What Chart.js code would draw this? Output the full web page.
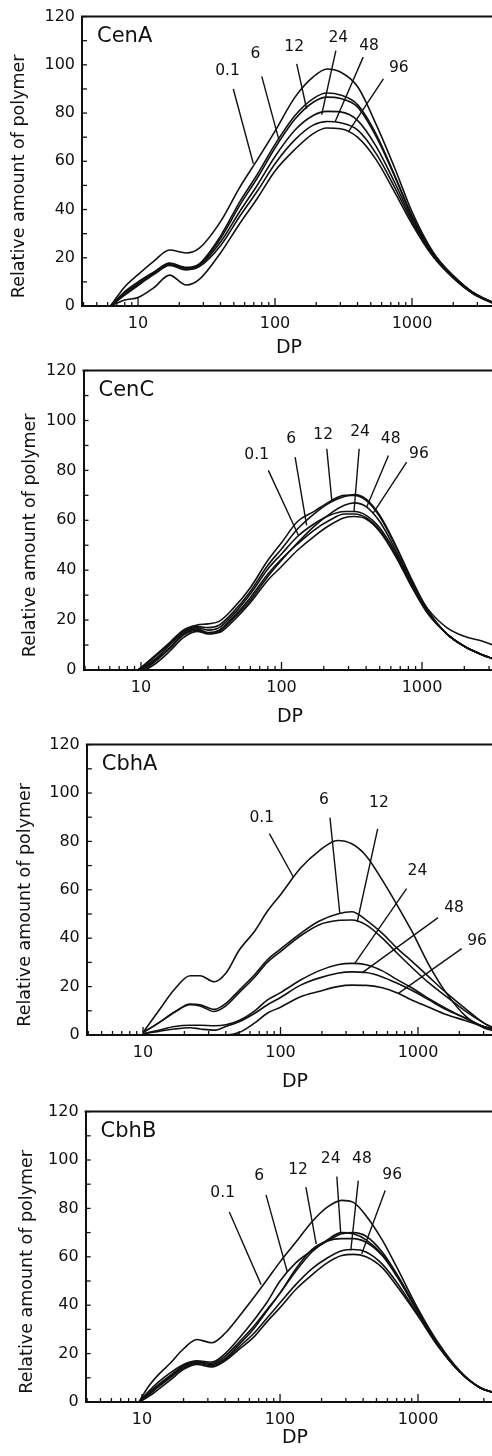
<!DOCTYPE html>
<html>
<head>
<meta charset="utf-8">
<script src="https://cdn.jsdelivr.net/npm/chart.js@4.4.1/dist/chart.umd.min.js"></script>
<style>
  html, body { margin: 0; padding: 0; background: #fff; }
  #wrap { position: relative; width: 492px; height: 1456px; overflow: hidden; background: #fff; }
  #wrap canvas { position: absolute; left: 0; }
</style>
</head>
<body>
<div id="wrap"></div>
<script>
// incubation times (h), one curve each
const hours = ["0.1", "6", "12", "24", "48", "96"];
const yTicks = [0, 20, 40, 60, 80, 100, 120];
const xTicks = [10, 100, 1000];

// ---- CenA ----
const cenADP = [6.3, 8, 10, 13, 17, 22.5, 28, 40, 55, 75, 100, 140, 190, 240, 300, 400, 550, 750, 1000, 1400, 2000, 2800, 4000];
const cenA = [
  [0, 8, 13, 18.5, 23.2, 22, 24, 35, 49, 61, 72.5, 86.6, 95, 98.3, 97, 91, 75, 57, 39, 23, 12, 5, 0.8],
  [0, 6, 10, 14, 17.8, 16, 17.5, 29, 43, 55, 67, 79, 86, 88.3, 87.5, 83.5, 71, 54, 37.5, 22.5, 12.5, 5.5, 1.2],
  [0, 5.5, 9.5, 13.8, 17.6, 15.8, 17.2, 28, 41.5, 53.5, 65.5, 77.5, 84.5, 86.6, 86, 82.5, 70, 53.5, 37, 22.5, 12.5, 5.5, 1.2],
  [0, 5, 9, 13.5, 17.2, 15.5, 16.8, 26.5, 39, 50.5, 62, 73, 79, 80.7, 80.5, 77, 66, 51, 36, 22, 12.5, 5.5, 1.2],
  [0, 4.5, 8.5, 13, 16.8, 15, 16.3, 25, 37, 48, 59, 69, 75, 76.5, 76, 73, 63, 49, 35, 21.5, 12, 5.3, 1.1],
  [0, 2.5, 3.5, 7.5, 12.8, 8.7, 11, 22, 34, 45, 56, 65, 71.5, 73.8, 73.5, 70, 60.5, 47, 34, 21, 11.5, 5, 1]
];
// label text [DP, value], leader from, leader to
const cenALabels = [
  [[45, 97.4], [49.6, 90], [69.5, 59]],
  [[72, 104.3], [80, 95.2], [107, 68.7]],
  [[138, 107.3], [144, 100.4], [170, 81.8]],
  [[290, 111.2], [278, 105.9], [219, 79.3]],
  [[486, 107.7], [440, 103.2], [274, 76.3]],
  [[800, 98.6], [618, 94.2], [342, 72.1]]
];

// ---- CenC ----
const cenCDP = [9.5, 11, 13, 16, 20, 25, 30, 36, 45, 60, 80, 100, 130, 170, 220, 280, 330, 400, 500, 650, 850, 1100, 1500, 2000, 2700, 3200];
const cenC = [
  [0, 2, 5, 10, 15, 17, 16, 17, 22, 30.5, 40.5, 46.5, 53.5, 58.5, 62, 63.5, 63.5, 62, 57, 47, 34.5, 24.5, 17, 13.5, 11.5, 10],
  [0, 2.5, 6, 10.5, 15.5, 17.5, 17, 18, 23, 31.5, 42, 48.5, 56.5, 62.5, 67, 69.5, 70.3, 68.5, 62, 50, 36, 24, 14.5, 9.5, 6, 4.5],
  [0, 3, 6.5, 11, 16, 18, 18.5, 19.5, 24.5, 33, 44, 51, 59.5, 63.5, 67.5, 70, 70, 68, 61.5, 49.5, 35.5, 23.5, 14.5, 9.5, 6, 4.5],
  [0, 1.5, 4.5, 9, 14.5, 16.5, 15, 16, 21, 29, 38.5, 44.5, 50.5, 56, 60, 62.5, 62.5, 61, 56, 46, 33.5, 23, 14.5, 9.5, 6, 4.5],
  [0, 1, 4, 8.5, 14, 16, 14.5, 15.5, 20.5, 28, 37.5, 44, 51, 57.5, 62.5, 66, 67, 65.5, 59.5, 48, 34.5, 23.5, 14.5, 9.5, 6, 4.5],
  [0, 0.5, 3, 7.5, 13, 15.5, 14.5, 15, 19.5, 27, 36, 41.5, 48, 53.5, 58, 61, 61.5, 60.5, 55.5, 45.5, 33, 22.5, 14.5, 9.5, 6, 4.5]
];
const cenCLabels = [
  [[66.6, 86.3], [80.6, 80], [132, 54]],
  [[117, 92.4], [125, 85.3], [151, 58]],
  [[198, 94.4], [210, 88.7], [228, 68]],
  [[362, 95.3], [357, 88.7], [328, 63.3]],
  [[598, 92.4], [577, 86], [404, 65.3]],
  [[951, 86.4], [777, 83.3], [447, 62.7]]
];

// ---- CbhA ----
const cbhADP = [10, 13, 17, 22, 26, 33, 40, 50, 65, 80, 100, 140, 190, 260, 330, 420, 550, 700, 900, 1200, 1600, 2200, 3000, 3500];
const cbhA = [
  [1, 10, 19, 24.5, 24.5, 22, 25.5, 35, 43, 51, 58, 69, 76, 80.4, 79, 74, 64, 54, 43, 29, 17.5, 8, 3, 1.8],
  [1, 5, 9.5, 12.8, 12.5, 10.6, 13, 18.5, 25, 31, 35.5, 42, 47, 50, 50.9, 47.5, 42, 36, 30.5, 24, 17.5, 11, 5, 3],
  [1, 5, 9.5, 12.5, 12, 9.7, 12, 17.5, 24, 30, 34.5, 41, 45.5, 47.3, 47.5, 45.5, 40, 34, 28, 21.5, 16, 10, 5, 3],
  [0.5, 2, 3.5, 4, 4, 3.8, 4.2, 6, 10, 14.4, 17.5, 22.7, 26.5, 29, 29.6, 29, 26.5, 23, 19.5, 15, 11, 7, 3.5, 2.5],
  [0.5, 1.5, 2.5, 3, 2.5, 2, 3.5, 5.5, 9, 12.4, 15.5, 20.6, 23.5, 25.5, 26.1, 25.8, 24, 21.5, 18.5, 14.5, 10.5, 7, 3.5, 2.5],
  [0, 0, 0, 0, 0, 0, 0, 1, 5, 9, 11.5, 15.8, 18, 20, 20.6, 20.5, 19.5, 17.5, 14.5, 11.5, 8.5, 6, 3.5, 2.5]
];
const cbhALabels = [
  [[73, 89.8], [83, 83.2], [124, 65.3]],
  [[207, 97.3], [229, 89.8], [270, 50.2]],
  [[520, 95.8], [509, 85.2], [361, 46.7]],
  [[990, 67.6], [826, 60.5], [347, 29.6]],
  [[1830, 52.5], [1400, 48.5], [396, 25.9]],
  [[2690, 38.8], [2080, 35.7], [720, 17.2]]
];

// ---- CbhB ----
const cbhBDP = [9.5, 11, 13, 16, 20, 25, 32, 40, 50, 65, 80, 100, 130, 170, 220, 280, 340, 420, 550, 700, 1000, 1400, 2000, 2800, 3500];
const cbhB = [
  [0, 6, 11, 16, 22, 25.8, 24.5, 28.4, 35, 43.4, 50.3, 57.9, 66, 74.4, 80.5, 83.3, 82.5, 77, 67, 55.8, 38.5, 24.5, 13, 6, 3.8],
  [0, 4, 8, 12, 15.5, 17, 16.5, 20, 26, 34, 41, 50, 57.5, 62.5, 66.5, 69.5, 70, 68.5, 62, 53, 37.5, 23.5, 12.5, 6, 4],
  [0, 3.5, 7, 11, 15, 16.5, 16, 19, 24.5, 31.5, 38, 45, 55, 63, 66.5, 67.5, 67.5, 66, 60.5, 52, 37, 23.5, 12.5, 6, 4],
  [0, 3, 6.5, 10.5, 14.5, 16.5, 15.5, 18, 23.5, 30.5, 37.5, 45, 54, 62, 67, 70, 69.5, 67, 61, 52.5, 37.5, 23.5, 12.5, 6, 4],
  [0, 2.5, 6, 10, 14, 16, 15, 17.5, 22.5, 28.5, 34.5, 41, 48.5, 55, 59.5, 62.5, 63, 62, 57, 49.5, 36, 23, 12.5, 6, 4],
  [0, 2, 5, 9, 13.5, 15.5, 14.5, 17, 21.5, 27, 33, 39, 46.5, 52.5, 57.5, 60.5, 61, 60, 55.5, 48, 35.5, 23, 12.5, 6, 4]
];
const cbhBLabels = [
  [[38.4, 86.3], [42.9, 78.5], [72.9, 48.5]],
  [[70.7, 93.2], [79.2, 85.6], [113, 53.7]],
  [[135, 96], [154, 88.8], [183, 65.2]],
  [[233, 100.5], [258, 93.2], [275, 70.2]],
  [[392, 100.5], [369, 91.5], [326, 62.7]],
  [[650, 94], [578, 87.4], [391, 61.3]]
];

// page layout of each panel (pixels)
const panels = [
  { name: "CenA", dp: cenADP, values: cenA, labels: cenALabels, top: 16,   bottom: 306,  left: 82,   right: 494.5, xMax: 4000, titleX: 19, dpX: 289, dpY: 348 },
  { name: "CenC", dp: cenCDP, values: cenC, labels: cenCLabels, top: 370,  bottom: 670,  left: 83.5, right: 493,   xMax: 3200, titleX: 30, dpX: 290, dpY: 717 },
  { name: "CbhA", dp: cbhADP, values: cbhA, labels: cbhALabels, top: 744,  bottom: 1035, left: 86.8, right: 492.8, xMax: 3500, titleX: 25, dpX: 295, dpY: 1082 },
  { name: "CbhB", dp: cbhBDP, values: cbhB, labels: cbhBLabels, top: 1111, bottom: 1402, left: 85.6, right: 493.1, xMax: 3500, titleX: 27, dpX: 295, dpY: 1438 }
];

const FONT = "'DejaVu Sans', sans-serif";
const INK = "#111";
const W = 510, H = 380;
const wrap = document.getElementById("wrap");

function line(ctx, x1, y1, x2, y2) {
  ctx.beginPath();
  ctx.moveTo(x1, y1);
  ctx.lineTo(x2, y2);
  ctx.stroke();
}

function decorPlugin(p, canvasTop) {
  return {
    id: "decor" + p.name,
    afterDraw(chart) {
      const ctx = chart.ctx;
      const a = chart.chartArea;
      const xs = chart.scales.x, ys = chart.scales.y;
      ctx.save();
      ctx.strokeStyle = INK;
      ctx.fillStyle = INK;

      // top frame
      ctx.lineWidth = 2;
      line(ctx, a.left - 1, a.top, a.right + 2, a.top);

      // inward ticks
      ctx.lineWidth = 1.3;
      for (let d = 0; d < 4; d++) {
        for (let k = 1; k < 10; k++) {
          const v = k * Math.pow(10, d);
          if (v < xs.min || v > xs.max) continue;
          const x = xs.getPixelForValue(v);
          line(ctx, x, a.bottom, x, a.bottom - (k === 1 ? 8 : 4));
        }
      }
      for (let v = 0; v <= 120; v += 10) {
        const y = ys.getPixelForValue(v);
        line(ctx, a.left, y, a.left + 5, y);
      }

      // panel name
      ctx.font = "21px " + FONT;
      ctx.textAlign = "left";
      ctx.textBaseline = "middle";
      ctx.fillText(p.name, a.left + 15, a.top + 20);

      // axis titles
      ctx.font = "19px " + FONT;
      ctx.textAlign = "center";
      ctx.fillText("DP", p.dpX, p.dpY - canvasTop);
      ctx.save();
      ctx.translate(p.titleX, (a.top + a.bottom) / 2 + 15);
      ctx.rotate(-Math.PI / 2);
      ctx.font = "17.5px " + FONT;
      ctx.fillText("Relative amount of polymer", 0, 0);
      ctx.restore();

      // curve labels with leader lines
      ctx.font = "15.5px " + FONT;
      ctx.lineWidth = 1.4;
      p.labels.forEach((lb, i) => {
        const [at, from, to] = lb;
        ctx.fillText(hours[i], xs.getPixelForValue(at[0]), ys.getPixelForValue(at[1]));
        line(ctx, xs.getPixelForValue(from[0]), ys.getPixelForValue(from[1]),
                  xs.getPixelForValue(to[0]), ys.getPixelForValue(to[1]));
      });
      ctx.restore();
    }
  };
}

panels.forEach(p => {
  const canvasTop = p.top - 16;
  const c = document.createElement("canvas");
  c.width = W;
  c.height = H;
  c.style.width = W + "px";
  c.style.height = H + "px";
  c.style.top = canvasTop + "px";
  wrap.appendChild(c);

  const datasets = p.values.map((vals, i) => ({
    label: hours[i],
    data: p.dp.map((d, j) => ({ x: d, y: vals[j] })),
    borderColor: INK,
    borderWidth: 1.6,
    pointRadius: 0,
    fill: false,
    cubicInterpolationMode: "monotone"
  }));

  new Chart(c, {
    type: "line",
    data: { datasets },
    options: {
      responsive: false,
      animation: false,
      devicePixelRatio: 1,
      layout: { padding: { top: 16, left: 0, right: W - p.right, bottom: 0 } },
      plugins: { legend: { display: false }, tooltip: { enabled: false } },
      scales: {
        x: {
          type: "logarithmic",
          min: 3.9,
          max: p.xMax,
          afterBuildTicks: s => { s.ticks = xTicks.map(v => ({ value: v })); },
          afterFit: s => { s.height = H - (p.bottom - canvasTop); },
          ticks: {
            callback: v => String(v),
            autoSkip: false,
            maxRotation: 0,
            padding: 8,
            color: INK,
            font: { family: FONT, size: 16 }
          },
          grid: { display: false, drawTicks: false },
          border: { display: true, color: INK, width: 2 }
        },
        y: {
          min: 0,
          max: 120,
          afterBuildTicks: s => { s.ticks = yTicks.map(v => ({ value: v })); },
          afterFit: s => { s.width = p.left; },
          ticks: {
            padding: 7,
            color: INK,
            font: { family: FONT, size: 16 }
          },
          grid: { display: false, drawTicks: false },
          border: { display: true, color: INK, width: 2 }
        }
      }
    },
    plugins: [decorPlugin(p, canvasTop)]
  });
});
</script>
</body>
</html>
